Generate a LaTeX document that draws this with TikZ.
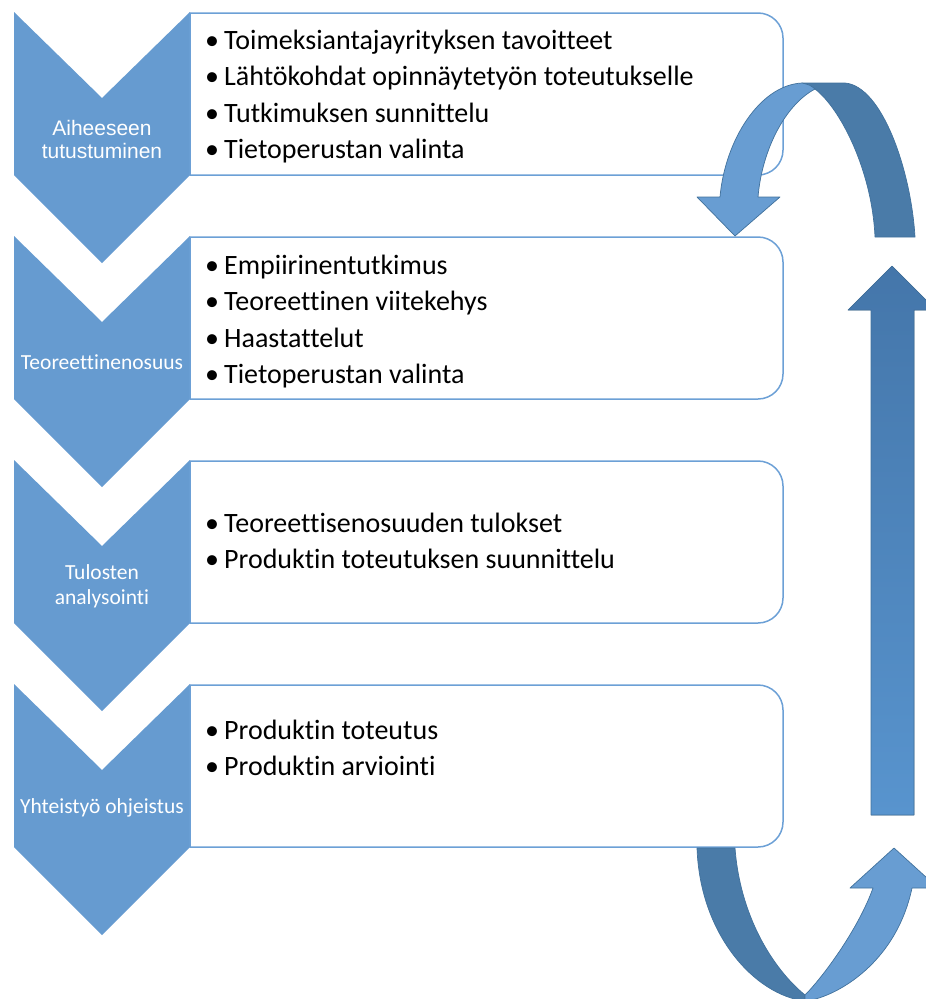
\documentclass[tikz,border=0pt]{standalone}
\usepackage{fontspec}
\setmainfont{Carlito}[Ligatures={NoCommon}]
\newfontfamily\helv{Liberation Sans}
\definecolor{chev}{RGB}{102,155,208}
\definecolor{boxline}{RGB}{108,160,214}
\definecolor{arrlight}{RGB}{104,157,210}
\definecolor{arrdark}{RGB}{74,123,168}
\definecolor{arredge}{RGB}{65,113,156}
\definecolor{uptop}{RGB}{68,118,170}
\definecolor{upbot}{RGB}{88,148,206}
\newcommand\bl[1]{\hbox to 19pt{\textbullet\hss}#1}
\tikzset{
  chevron/.style={fill=chev, draw=none},
  listbox/.style={draw=boxline, fill=white, line width=1.5pt},
  boxtext/.style={anchor=base west, inner sep=0pt, font=\fontsize{28}{36.3}\selectfont, text=black},
  chevlabel/.style={inner sep=0pt, align=center, text=white, font=\fontsize{21.5}{25}\selectfont},
  arrowpart/.style={draw=arredge, line width=0.7pt, line join=round},
}
\begin{document}
\begin{tikzpicture}[x=1pt,y=-1pt]
\path[use as bounding box] (0,0) rectangle (926,999);
\clip (0,0) rectangle (926,999);

% chevrons
\foreach \T in {12,236,460,684}{
  \fill[chevron] (14,\T) -- (102,\T+86) -- (190,\T) -- (190,\T+163) -- (102,\T+251) -- (14,\T+163) -- cycle;
}

% boxes (right corners rounded)
\foreach \T in {12,236,460,684}{
  \draw[listbox] (190,\T+1) -- (758,\T+1) arc[start angle=-90, end angle=0, radius=25]
     -- (783,\T+138) arc[start angle=0, end angle=90, radius=25] -- (190,\T+163) -- cycle;
}

% chevron labels
\node[chevlabel, font=\helv\fontsize{21}{23}\selectfont] (c1) at (102,139) {Aiheeseen\\tutustuminen};
\node[chevlabel] (c2) at (102,362) {Teoreettinenosuus};
\node[chevlabel] (c3) at (102,586) {Tulosten\\analysointi};
\node[chevlabel] (c4) at (102,808) {Yhteistyö ohjeistus};

% box texts
\node[boxtext] (t1) at (205,49.5) {\begin{tabular}[t]{@{}l@{}}
\bl{Toimeksiantajayrityksen tavoitteet}\\
\bl{Lähtökohdat opinnäytetyön toteutukselle}\\
\bl{Tutkimuksen sunnittelu}\\
\bl{Tietoperustan valinta}\end{tabular}};
\node[boxtext] (t2) at (205,274.5) {\begin{tabular}[t]{@{}l@{}}
\bl{Empiirinentutkimus}\\
\bl{Teoreettinen viitekehys}\\
\bl{Haastattelut}\\
\bl{Tietoperustan valinta}\end{tabular}};
\node[boxtext] (t3) at (205,532) {\begin{tabular}[t]{@{}l@{}}
\bl{Teoreettisenosuuden tulokset}\\
\bl{Produktin toteutuksen suunnittelu}\end{tabular}};
\node[boxtext] (t4) at (205,739.5) {\begin{tabular}[t]{@{}l@{}}
\bl{Produktin toteutus}\\
\bl{Produktin arviointi}\end{tabular}};

% top curved arrow
\filldraw[arrowpart, fill=arrdark] (875,237) -- (915,237) .. controls (911,170) and (882,86) .. (845,83)
   -- (802,83) -- (815,89) .. controls (840,108) and (872,170) .. (875,237) -- cycle;
\filldraw[arrowpart, fill=arrlight] (802,83) .. controls (760,85) and (725,140) .. (720,197)
   -- (697,197) -- (735,236) -- (780,197) -- (758,197)
   .. controls (762,150) and (785,105) .. (815,89) .. controls (810,85) .. (802,83) -- cycle;

% straight up arrow
\filldraw[arrowpart, top color=uptop, bottom color=upbot] (871,815) -- (871,310) -- (848,310) -- (892,266)
   -- (936,310) -- (914,310) -- (914,815) -- cycle;

% bottom curved arrow
\filldraw[arrowpart, fill=arrdark] (697,848) -- (735,848) .. controls (740,915) and (772,968) .. (805,995)
   -- (805,1001) .. controls (755,995) and (700,935) .. (697,848) -- cycle;
\filldraw[arrowpart, fill=arrlight] (873,888) .. controls (858,930) and (822,978) .. (805,995)
   -- (805,1001) .. controls (830,999) and (895,968) .. (912,888)
   -- (938,888) -- (894,848) -- (850,888) -- cycle;
\end{tikzpicture}
\end{document}
